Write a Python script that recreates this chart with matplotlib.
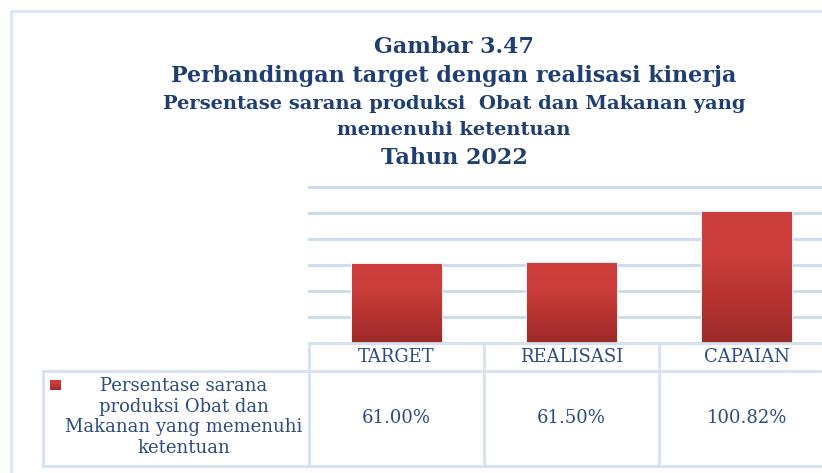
import matplotlib
matplotlib.use("Agg")
import matplotlib.pyplot as plt
import numpy as np
from matplotlib.colors import LinearSegmentedColormap
from matplotlib.lines import Line2D
from matplotlib.transforms import blended_transform_factory
import matplotlib.patheffects as pe

# Data
categories = ["TARGET", "REALISASI", "CAPAIAN"]
values = [61.00, 61.50, 100.82]
value_labels = ["61.00%", "61.50%", "100.82%"]
series_name = "Persentase sarana\nproduksi Obat dan\nMakanan yang memenuhi\nketentuan"
title_lines = [
    ("Gambar 3.47", 16),
    ("Perbandingan target dengan realisasi kinerja", 16),
    ("Persentase sarana produksi  Obat dan Makanan yang", 14),
    ("memenuhi ketentuan", 14),
    ("Tahun 2022", 16),
]

W, H = 822, 473
DPI = 100
fig = plt.figure(figsize=(W / DPI, H / DPI), dpi=DPI)
fig.patch.set_facecolor("white")

TITLE_C = "#1F3F73"
TEXT_C = "#2B4C7E"
GRID_C = "#C9DAF0"
BORDER_C = "#D5E2F2"


def fx(px):
    return px / W


def fy(py):
    return 1 - py / H


# Outer frame (left and top edges visible)
fig.add_artist(Line2D([fx(11), fx(11)], [0, fy(11)], color="#DCE6F3", lw=2.0))
fig.add_artist(Line2D([fx(11), 1.0], [fy(11), fy(11)], color="#DCE6F3", lw=2.0))

# Titles
title_y = [47, 76, 104, 130, 158]
for (txt, size), yy in zip(title_lines, title_y):
    fig.text(0.5 * (fx(160) + fx(748)), fy(yy), txt, ha="center", va="center",
             fontsize=size, fontweight="bold", family="DejaVu Serif", color=TITLE_C)

# Plot area
left_px, right_px = 309, 834
top_px, base_px = 187, 343
ax = fig.add_axes([fx(left_px), fy(base_px), (right_px - left_px) / W, (base_px - top_px) / H])
ax.set_xlim(-0.5, len(categories) - 0.5)
ax.set_ylim(0, 120)
ax.set_yticks(np.arange(0, 121, 20))
ax.set_xticks([])
ax.tick_params(left=False, labelleft=False)
for s in ax.spines.values():
    s.set_visible(False)
ax.yaxis.grid(True, color=GRID_C, lw=2.0)
for gl in ax.get_ygridlines():
    gl.set_clip_on(False)
ax.set_axisbelow(True)

x = np.arange(len(categories))
bars = ax.bar(x, values, width=0.51, color="#B83532", zorder=2,
              path_effects=[pe.Stroke(linewidth=2.5, foreground="#EEEEEE"), pe.Normal()])

cmap = LinearSegmentedColormap.from_list("barred", ["#9C2A28", "#B63331", "#CA3D3A", "#CD3F3C"])
grad = np.linspace(0, 1, 256).reshape(-1, 1)
for b in bars:
    bx, by = b.get_x(), b.get_y()
    bw, bh = b.get_width(), b.get_height()
    im = ax.imshow(grad, extent=[bx, bx + bw, by, by + bh], origin="lower",
                   aspect="auto", cmap=cmap, zorder=3, interpolation="bilinear")
    im.set_clip_path(b)
ax.set_xlim(-0.5, len(categories) - 0.5)
ax.set_ylim(0, 120)

# Data table under the plot
tr = blended_transform_factory(ax.transData, fig.transFigure)
x_edges = np.arange(len(categories) + 1) - 0.5
row_top, row_mid, row_bot = 343, 371, 466

lw_t = 2.0
fig.add_artist(Line2D([x_edges[0], x_edges[-1]], [fy(row_top)] * 2, transform=tr, color=BORDER_C, lw=lw_t))
fig.add_artist(Line2D([fx(43), 1.02], [fy(row_mid)] * 2, color=BORDER_C, lw=lw_t))
fig.add_artist(Line2D([fx(43), 1.02], [fy(row_bot)] * 2, color=BORDER_C, lw=lw_t))
fig.add_artist(Line2D([fx(43), fx(43)], [fy(row_mid), fy(row_bot)], color=BORDER_C, lw=lw_t))
for xe in x_edges:
    fig.add_artist(Line2D([xe, xe], [fy(row_top), fy(row_bot)], transform=tr, color=BORDER_C, lw=lw_t))

for xi, cat, lab in zip(x, categories, value_labels):
    fig.text(xi, fy(357), cat, transform=tr, ha="center", va="center",
             fontsize=13, family="DejaVu Serif", color=TEXT_C)
    fig.text(xi, fy(418), lab, transform=tr, ha="center", va="center",
             fontsize=13, family="DejaVu Serif", color=TEXT_C)

# Series label with legend key
fig.text(fx(184), fy(417), series_name, ha="center", va="center", fontsize=13,
         family="DejaVu Serif", color=TEXT_C, linespacing=1.2, multialignment="center")
key = fig.add_axes([fx(50), fy(390), 10 / W, 10 / H])
key.imshow(grad, extent=[0, 1, 0, 1], origin="lower", aspect="auto", cmap=cmap)
key.set_axis_off()

fig.savefig("out.png", dpi=DPI, facecolor="white")
